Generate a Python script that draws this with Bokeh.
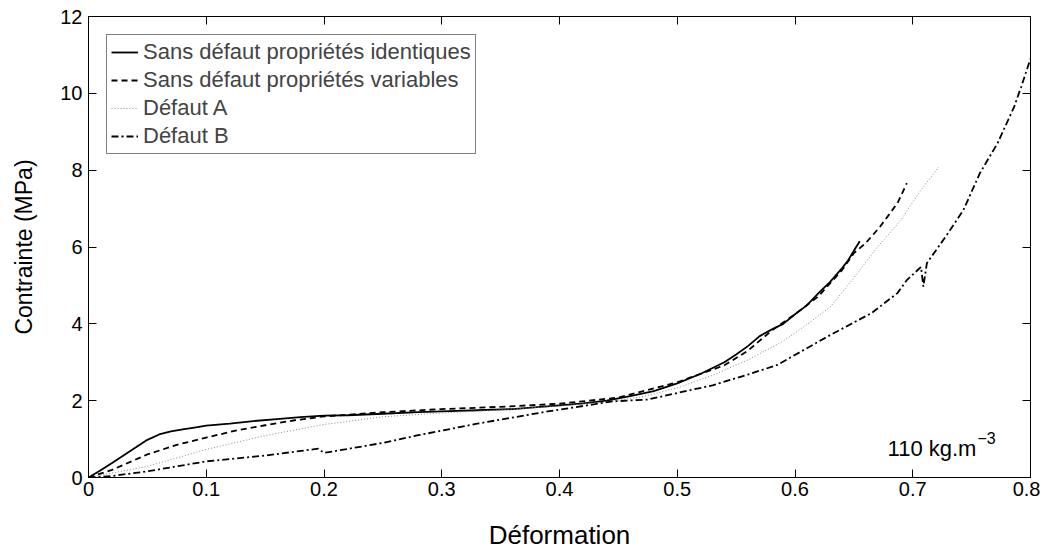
from bokeh.plotting import figure
from bokeh.models import (Range1d, FixedTicker, LinearAxis, Label, Legend, LegendItem,
                          NumeralTickFormatter, CustomJSTickFormatter)
from bokeh.embed import file_html
from bokeh.resources import INLINE

# ---- data ----
x_ident = [0, 0.01, 0.02, 0.03, 0.04, 0.05, 0.06, 0.07, 0.08, 0.09, 0.10, 0.12, 0.14, 0.16, 0.18,
           0.20, 0.22, 0.25, 0.28, 0.30, 0.33, 0.36, 0.40, 0.42, 0.44, 0.46, 0.48, 0.50, 0.52,
           0.54, 0.55, 0.56, 0.57, 0.58, 0.59, 0.60, 0.61, 0.62, 0.63, 0.64, 0.645, 0.65, 0.655]
y_ident = [0, 0.18, 0.38, 0.58, 0.78, 0.98, 1.12, 1.20, 1.25, 1.30, 1.35, 1.40, 1.47, 1.52, 1.57,
           1.61, 1.62, 1.66, 1.70, 1.72, 1.75, 1.78, 1.88, 1.93, 2.00, 2.12, 2.25, 2.45, 2.70,
           3.00, 3.20, 3.42, 3.68, 3.85, 4.00, 4.25, 4.48, 4.80, 5.10, 5.45, 5.65, 5.90, 6.15]

x_var = [0, 0.02, 0.05, 0.075, 0.10, 0.125, 0.15, 0.175, 0.20, 0.25, 0.30, 0.35, 0.40, 0.45,
         0.50, 0.52, 0.54, 0.56, 0.58, 0.60, 0.62, 0.64, 0.65, 0.66, 0.672, 0.68, 0.687, 0.695]
y_var = [0, 0.20, 0.60, 0.85, 1.04, 1.22, 1.36, 1.49, 1.59, 1.70, 1.78, 1.84, 1.92, 2.08,
         2.48, 2.70, 2.92, 3.30, 3.82, 4.25, 4.72, 5.40, 5.84, 6.10, 6.52, 6.85, 7.14, 7.66]

x_defA = [0, 0.05, 0.10, 0.15, 0.20, 0.25, 0.30, 0.35, 0.40, 0.44, 0.47, 0.50, 0.53, 0.56,
          0.59, 0.61, 0.63, 0.65, 0.67, 0.69, 0.705, 0.715, 0.722]
y_defA = [0, 0.29, 0.73, 1.09, 1.38, 1.58, 1.68, 1.76, 1.86, 1.97, 2.10, 2.33, 2.66, 3.06,
          3.55, 3.98, 4.44, 5.20, 6.00, 6.70, 7.40, 7.80, 8.08]

x_defB = [0, 0.02, 0.05, 0.10, 0.15, 0.195, 0.20, 0.25, 0.28, 0.33, 0.39, 0.445, 0.475, 0.50,
          0.53, 0.56, 0.585, 0.63, 0.665, 0.687, 0.695, 0.707, 0.709, 0.712, 0.73, 0.743,
          0.757, 0.772, 0.786, 0.792, 0.80]
y_defB = [0, 0.04, 0.16, 0.42, 0.57, 0.75, 0.64, 0.90, 1.10, 1.40, 1.72, 1.98, 2.03, 2.20,
          2.40, 2.68, 2.93, 3.71, 4.28, 4.80, 5.14, 5.48, 4.97, 5.58, 6.36, 6.96,
          7.92, 8.70, 9.64, 10.16, 10.90]

labels = ["Sans défaut propriétés identiques", "Sans défaut propriétés variables",
          "Défaut A", "Défaut B"]
x_ticks = [0, 0.1, 0.2, 0.3, 0.4, 0.5, 0.6, 0.7, 0.8]
y_ticks = [0, 2, 4, 6, 8, 10, 12]

FONT = "Liberation Sans"

p = figure(width=1040, height=552, output_backend="svg", toolbar_location=None,
           x_range=Range1d(0, 0.8), y_range=Range1d(0, 12),
           min_border_left=88, min_border_right=10, min_border_top=16, min_border_bottom=74)
p.xgrid.visible = False
p.ygrid.visible = False
p.outline_line_color = "black"
p.outline_line_width = 1
p.background_fill_color = "white"
p.border_fill_color = "white"

r1 = p.line(x_ident, y_ident, line_color="black", line_width=1.8)
r2 = p.line(x_var, y_var, line_color="black", line_width=1.8, line_dash="6 4")
r3 = p.line(x_defA, y_defA, line_color="#888888", line_width=1.0, line_dash="1 2")
r4 = p.line(x_defB, y_defB, line_color="black", line_width=1.8, line_dash="7 3 2 3")

for ax in (p.xaxis[0], p.yaxis[0]):
    ax.major_tick_in = 8
    ax.major_tick_out = 0
    ax.minor_tick_line_color = None
    ax.axis_line_color = "black"
    ax.major_label_text_font = FONT
    ax.major_label_text_font_size = "20px"
    ax.major_label_text_color = "black"
    ax.axis_label_text_font = FONT
    ax.axis_label_text_font_style = "normal"
    ax.axis_label_text_color = "black"

p.xaxis[0].ticker = FixedTicker(ticks=x_ticks)
p.xaxis[0].formatter = NumeralTickFormatter(format="0.[0]")
p.yaxis[0].ticker = FixedTicker(ticks=y_ticks)
p.xaxis[0].axis_label = "Déformation"
p.yaxis[0].axis_label = "Contrainte (MPa)"
p.xaxis[0].axis_label_text_font_size = "26px"
p.yaxis[0].axis_label_text_font_size = "23px"
p.xaxis[0].major_label_standoff = 4
p.yaxis[0].major_label_standoff = 6
p.xaxis[0].axis_label_standoff = 21
p.yaxis[0].axis_label_standoff = 20

blank = CustomJSTickFormatter(code="return ''")
top = LinearAxis(ticker=FixedTicker(ticks=x_ticks), formatter=blank, major_tick_in=8,
                 major_tick_out=0, minor_tick_line_color=None, major_label_standoff=0)
right = LinearAxis(ticker=FixedTicker(ticks=y_ticks), formatter=blank, major_tick_in=8,
                   major_tick_out=0, minor_tick_line_color=None, major_label_standoff=0)
p.add_layout(top, "above")
p.add_layout(right, "right")

legend = Legend(items=[LegendItem(label=labels[0], renderers=[r1]),
                       LegendItem(label=labels[1], renderers=[r2]),
                       LegendItem(label=labels[2], renderers=[r3]),
                       LegendItem(label=labels[3], renderers=[r4])],
                location="top_left", margin=18, padding=4, spacing=2,
                glyph_width=27, glyph_height=24, label_height=24,
                label_text_font=FONT, label_text_font_size="22px", label_standoff=5,
                border_line_color="black", border_line_width=1,
                background_fill_alpha=1.0)
p.add_layout(legend, "center")

p.add_layout(Label(x=0.6786, y=0.75, text="110 kg.m", text_font=FONT,
                   text_font_size="22px", text_color="black", text_baseline="alphabetic"))
p.add_layout(Label(x=0.755, y=1.04, text="−3", text_font=FONT,
                   text_font_size="16px", text_color="black", text_baseline="alphabetic"))

open("out.html", "w").write(file_html(p, INLINE))
